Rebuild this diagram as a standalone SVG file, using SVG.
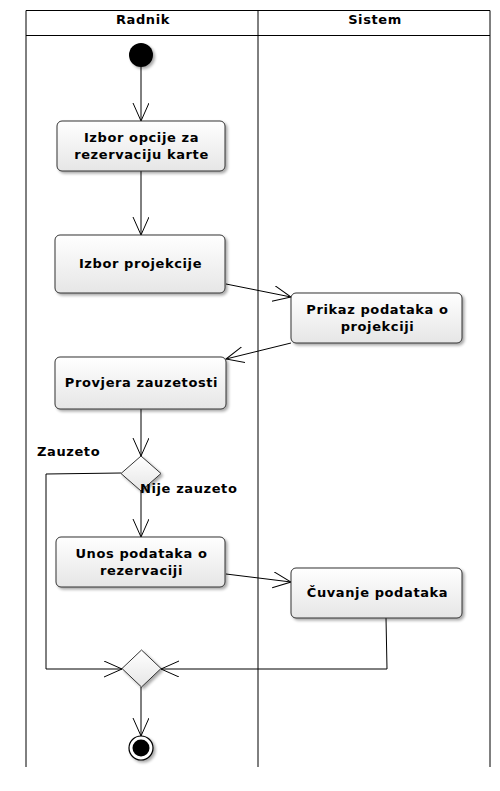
<svg xmlns="http://www.w3.org/2000/svg" width="500" height="791" viewBox="0 0 500 791">
<defs>
<linearGradient id="g" x1="0" y1="0" x2="0" y2="1">
<stop offset="0" stop-color="#ffffff"/>
<stop offset="1" stop-color="#e6e6e6"/>
</linearGradient>
<filter id="sh" x="-10%" y="-10%" width="130%" height="140%">
<feGaussianBlur in="SourceAlpha" stdDeviation="1.5"/>
<feOffset dx="2" dy="2" result="b"/>
<feComponentTransfer><feFuncA type="linear" slope="0.35"/></feComponentTransfer>
<feMerge><feMergeNode/><feMergeNode in="SourceGraphic"/></feMerge>
</filter>
<marker id="arr" markerWidth="20" markerHeight="20" refX="18" refY="8" orient="auto" markerUnits="userSpaceOnUse">
<path d="M0,0 L18,8 L0,16" fill="none" stroke="#000" stroke-width="1"/>
</marker>
</defs>
<style>
.lane{stroke:#000;stroke-width:1;fill:none}
.node rect{fill:url(#g);stroke:#333;stroke-width:1;filter:url(#sh)}
.t{font-family:"DejaVu Sans",sans-serif;font-weight:bold;font-size:13px;letter-spacing:0.6px;fill:#000;text-anchor:middle}
.lbl{font-family:"DejaVu Sans",sans-serif;font-weight:bold;font-size:13px;letter-spacing:0.6px;fill:#000}
.e{stroke:#000;stroke-width:1;fill:none;marker-end:url(#arr)}
.dia{fill:url(#g);stroke:#333;stroke-width:1;filter:url(#sh)}
</style>
<rect width="500" height="791" fill="#fff"/>
<g id="lanes">
<path class="lane" d="M26,767 V10.5 H490 V767 M258,10.5 V767 M26,35.5 H490"/>
<text class="t" x="143" y="24">Radnik</text>
<text class="t" x="375" y="24">Sistem</text>
</g>
<g id="edges">
<path class="e" d="M141,67 V121"/>
<path class="e" d="M141,171 V235"/>
<path class="e" d="M226,284 L291,297"/>
<path class="e" d="M291,343 L226,359"/>
<path class="e" d="M141,409 V456"/>
<path class="e" d="M141,491 V537"/>
<path class="e" d="M226,574 L291,582"/>
<path class="e" d="M121,473 L46,474 V669 L122,669"/>
<path class="e" d="M386,618 L387,669 L161,669"/>
<path class="e" d="M141,687 V736"/>
</g>
<g id="start"><circle cx="141" cy="55" r="12" fill="#000" filter="url(#sh)"/></g>
<g id="n1" class="node"><rect x="57" y="121" width="168" height="50" rx="5"/>
<text class="t" x="141.5" y="142">Izbor opcije za</text><text class="t" x="141.5" y="159">rezervaciju karte</text></g>
<g id="n2" class="node"><rect x="55" y="235" width="170" height="58" rx="5"/>
<text class="t" x="140.5" y="268">Izbor projekcije</text></g>
<g id="n3" class="node"><rect x="291" y="293" width="171" height="50" rx="5"/>
<text class="t" x="377.5" y="314">Prikaz podataka o</text><text class="t" x="377.5" y="331">projekciji</text></g>
<g id="n4" class="node"><rect x="55" y="357" width="171" height="52" rx="5"/>
<text class="t" x="141.5" y="387">Provjera zauzetosti</text></g>
<g id="d1"><path class="dia" d="M141,456 L161,473.5 L141,491 L121,473.5 Z"/></g>
<text class="lbl" x="37" y="456">Zauzeto</text>
<text class="lbl" x="140" y="493">Nije zauzeto</text>
<g id="n5" class="node"><rect x="56" y="537" width="169" height="50" rx="5"/>
<text class="t" x="141.5" y="558">Unos podataka o</text><text class="t" x="141.5" y="575">rezervaciji</text></g>
<g id="n6" class="node"><rect x="291" y="568" width="171" height="50" rx="5"/>
<text class="t" x="377.5" y="597">Čuvanje podataka</text></g>
<g id="d2"><path class="dia" d="M141.5,650 L161,668.5 L141.5,687 L122,668.5 Z"/></g>
<g id="end"><circle cx="141" cy="748" r="12" fill="#fff" stroke="#000" stroke-width="1.2" filter="url(#sh)"/><circle cx="141" cy="748" r="8.5" fill="#000"/></g>
</svg>
